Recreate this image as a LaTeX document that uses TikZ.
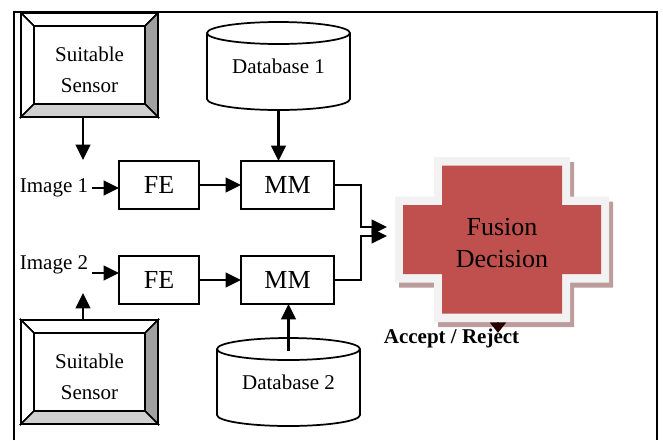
\documentclass[tikz,border=0pt]{standalone}
\usepackage{fontspec}
\setmainfont{Liberation Serif}
\usetikzlibrary{arrows.meta,backgrounds}

\definecolor{fusionred}{HTML}{C0504D}
\definecolor{fusionrim}{HTML}{F2F2F2}
\definecolor{fusionshadow}{HTML}{BC9C9C}
\definecolor{bevelside}{HTML}{A0A0A0}
\definecolor{bevelbase}{HTML}{D0D0D0}

% raised frame round a sensor node
\newcommand{\bevelbox}[1]{%
  \filldraw[bevel, fill=white] (#1.north west) -- (#1.north east)
    -- ([shift={(-9.75pt,-9.75pt)}]#1.north east) -- ([shift={(9.75pt,-9.75pt)}]#1.north west) -- cycle;
  \filldraw[bevel, fill=white] (#1.north west) -- ([shift={(9.75pt,-9.75pt)}]#1.north west)
    -- ([shift={(9.75pt,9.75pt)}]#1.south west) -- (#1.south west) -- cycle;
  \filldraw[bevel, fill=bevelside] (#1.north east) -- (#1.south east)
    -- ([shift={(-9.75pt,9.75pt)}]#1.south east) -- ([shift={(-9.75pt,-9.75pt)}]#1.north east) -- cycle;
  \filldraw[bevel, fill=bevelbase] (#1.south west) -- (#1.south east)
    -- ([shift={(-9.75pt,9.75pt)}]#1.south east) -- ([shift={(9.75pt,9.75pt)}]#1.south west) -- cycle;
}

% cylinder round a database node
\newcommand{\dbcan}[1]{%
  \draw[dbline] ([yshift=-8.25pt]#1.north west) -- ([yshift=8.25pt]#1.south west)
    arc[start angle=180, end angle=360, x radius=53.625pt, y radius=8.25pt]
    -- ([yshift=-8.25pt]#1.north east)
    arc[start angle=0, end angle=180, x radius=53.625pt, y radius=8.25pt] -- cycle;
  \draw[dbline] ([yshift=-8.25pt]#1.north west)
    arc[start angle=180, end angle=360, x radius=53.625pt, y radius=8.25pt];
}

\begin{document}
\begin{tikzpicture}[x=0.75pt, y=-0.75pt,
    arr/.style={line width=1.6pt, -{Triangle[length=11.5pt, width=11pt]}},
    outarr/.style={line width=1.6pt, draw=black!85!red, -{Triangle[length=8pt, width=12pt]}},
    bevel/.style={line width=1.2pt, line join=miter},
    dbline/.style={line width=1.3pt},
    frame/.style={line width=1.5pt},
    sensor/.style={minimum width=102.75pt, minimum height=78pt, outer sep=0pt,
      label={[yshift=-3.5pt, align=center, font=\fontsize{15.75}{23.25}\selectfont]center:#1}},
    stepbox/.style={draw, line width=1.4pt, minimum height=36pt, outer sep=0pt,
      font=\fontsize{19.5}{24}\selectfont},
    dbnode/.style={minimum width=107.25pt, minimum height=66pt, outer sep=0pt,
      font=\fontsize{15.75}{19}\selectfont},
    lbl/.style={inner sep=3pt, font=\fontsize{15.75}{19}\selectfont},
    cross/.style n args={4}{insert path={(-#3,-#4) -- (#3,-#4) -- (#3,-#2) -- (#1,-#2)
      -- (#1,#2) -- (#3,#2) -- (#3,#4) -- (-#3,#4) -- (-#3,#2) -- (-#1,#2) -- (-#1,-#2)
      -- (-#3,-#2) -- cycle}}]

    \useasboundingbox (0,0) rectangle (663,440);

    % outer frame
    \draw[frame] (14,440) -- (14,12) -- (657,12) -- (657,440);

    % sensors
    \node[sensor={Suitable\\Sensor}] (sA) at (89.5,65) {};
    \node[sensor={Suitable\\Sensor}] (sB) at (89.5,372) {};
    \bevelbox{sA}
    \bevelbox{sB}
    \coordinate (inA) at (83,160);
    \coordinate (inB) at (83,293);

    % inputs
    \node[lbl] (imgA) at (54,188) {Image 1};
    \node[lbl] (imgB) at (54,265) {Image 2};

    % feature extraction and matching
    \node[stepbox, minimum width=60pt] (feA) at (159,185) {FE};
    \node[stepbox, minimum width=60pt] (feB) at (159,280) {FE};
    \node[stepbox, minimum width=69.75pt] (mmA) at (287.5,185) {MM};
    \node[stepbox, minimum width=69.75pt] (mmB) at (287.5,280) {MM};

    % databases
    \node[dbnode] (dbA) at (278.5,66) {Database 1};
    \node[dbnode] (dbB) at (288.5,382) {Database 2};
    \dbcan{dbA}
    \dbcan{dbB}

    % fusion block
    \node[minimum width=160.5pt, minimum height=123.75pt,
      label={[yshift=-2.5pt, align=center, font=\fontsize{19.5}{24}\selectfont]center:Fusion\\Decision}]
      (fus) at (502,239.5) {};
    \node[inner sep=2pt, font=\fontsize{15.75}{19}\selectfont\bfseries] (acc) at (451.5,338) {Accept / Reject};
    \coordinate (fzA) at (387,227);
    \coordinate (fzB) at (387,236);
    \coordinate (outC) at (498,333);

    \begin{scope}[on background layer]
      \fill[fusionshadow, shift={(fus.center)}, shift={(4,5)}, cross={107}{43}{68}{82.5}];
      \draw[outarr] (fus.center -| outC) -- (outC);
      \fill[fusionrim, shift={(fus.center)}, cross={107}{43}{68}{82.5}];
      \fill[fusionred, shift={(fus.center)}, cross={99}{34.5}{60}{74}];
    \end{scope}

    % connectors
    \draw[arr] (sA.south -| inA) -- (inA);
    \draw[arr] (sB.north -| inB) -- (inB);
    \draw[arr] (imgA.east) -- (imgA.east -| feA.west);
    \draw[arr] ([yshift=-6pt]imgB.east) -- ([yshift=-6pt]imgB.east -| feB.west);
    \draw[arr] (feA) -- (mmA);
    \draw[arr] (feB) -- (mmB);
    \draw[arr] (dbA.south) -- (dbA.south |- mmA.north);
    \draw[arr] ([yshift=-9.75pt]dbB.north) -- (dbB.north |- mmB.south);
    \draw[arr] (mmA.east) -- ++(27,0) |- (fzA);
    \draw[arr] (mmB.east) -- ++(27,0) |- (fzB);
\end{tikzpicture}
\end{document}
